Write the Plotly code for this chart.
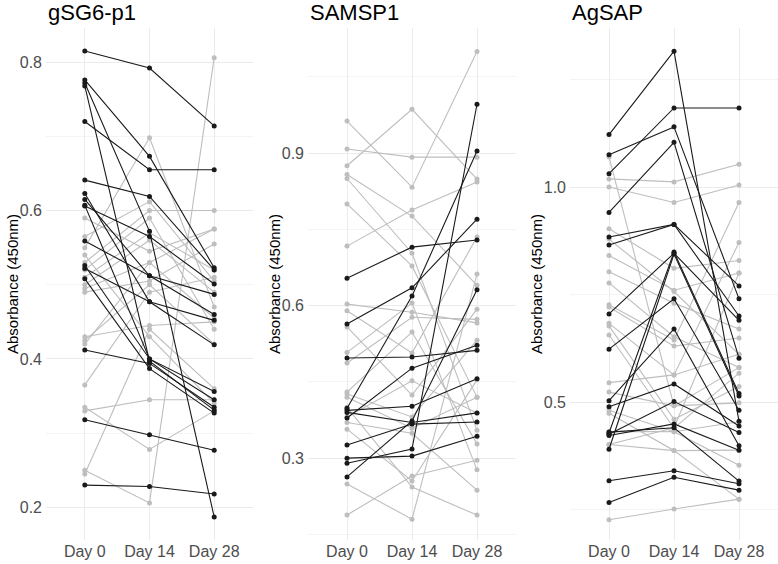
import plotly.graph_objects as go

days = ["Day 0", "Day 14", "Day 28"]
panel_titles = ["gSG6-p1", "SAMSP1", "AgSAP"]
y_title = "Absorbance (450nm)"

# Each row: absorbance at Day 0, Day 14, Day 28
gsg6_black = [
    [0.815, 0.792, 0.714], [0.720, 0.655, 0.655], [0.776, 0.673, 0.523],
    [0.772, 0.572, 0.187], [0.768, 0.397, 0.331], [0.641, 0.619, 0.520],
    [0.623, 0.477, 0.419], [0.615, 0.512, 0.460], [0.607, 0.400, 0.345],
    [0.606, 0.565, 0.501], [0.559, 0.512, 0.487], [0.526, 0.400, 0.356],
    [0.522, 0.477, 0.452], [0.508, 0.387, 0.327], [0.412, 0.394, 0.335],
    [0.318, 0.298, 0.277], [0.230, 0.228, 0.218],
]
gsg6_grey = [
    [0.590, 0.545, 0.575], [0.565, 0.612, 0.505], [0.550, 0.698, 0.470],
    [0.530, 0.600, 0.600], [0.520, 0.590, 0.440], [0.510, 0.570, 0.520],
    [0.500, 0.560, 0.490], [0.495, 0.530, 0.575], [0.490, 0.505, 0.555],
    [0.430, 0.445, 0.450], [0.425, 0.500, 0.420], [0.420, 0.530, 0.455],
    [0.365, 0.490, 0.510], [0.335, 0.278, 0.330], [0.330, 0.345, 0.345],
    [0.250, 0.206, 0.806], [0.245, 0.440, 0.360], [0.540, 0.430, 0.340],
]
samsp1_black = [
    [0.654, 0.715, 0.729], [0.564, 0.635, 0.770], [0.497, 0.499, 0.512],
    [0.398, 0.619, 0.904], [0.394, 0.402, 0.456], [0.379, 0.477, 0.522],
    [0.326, 0.367, 0.371], [0.263, 0.373, 0.631], [0.300, 0.304, 0.343],
    [0.290, 0.318, 0.996], [0.390, 0.370, 0.389],
]
samsp1_grey = [
    [0.963, 0.833, 1.100], [0.908, 0.892, 0.892], [0.875, 0.986, 0.849],
    [0.858, 0.776, 0.640], [0.850, 0.703, 0.355], [0.800, 0.678, 0.420],
    [0.717, 0.788, 0.843], [0.603, 0.587, 0.566], [0.590, 0.507, 0.735],
    [0.558, 0.424, 0.593], [0.508, 0.605, 0.277], [0.487, 0.577, 0.573],
    [0.430, 0.548, 0.328], [0.426, 0.381, 0.532], [0.381, 0.452, 0.389],
    [0.357, 0.255, 0.454], [0.249, 0.180, 0.662], [0.188, 0.265, 0.296],
    [0.400, 0.243, 0.188], [0.370, 0.349, 0.237], [0.420, 0.359, 0.420],
]
agsap_black = [
    [1.122, 1.316, 0.455], [1.031, 1.184, 1.184], [1.075, 1.140, 0.740],
    [0.941, 1.104, 0.602], [0.884, 0.913, 0.770], [0.865, 0.913, 0.700],
    [0.705, 0.846, 0.690], [0.428, 0.849, 0.520], [0.390, 0.844, 0.514],
    [0.623, 0.740, 0.481], [0.503, 0.670, 0.398], [0.489, 0.542, 0.444],
    [0.425, 0.501, 0.429], [0.422, 0.449, 0.388], [0.430, 0.440, 0.316],
    [0.317, 0.340, 0.310], [0.266, 0.325, 0.295],
]
agsap_grey = [
    [1.019, 1.012, 1.053], [1.000, 0.964, 1.005], [1.070, 0.491, 0.580],
    [0.903, 0.811, 0.829], [0.879, 0.757, 0.611], [0.841, 0.760, 0.800],
    [0.803, 0.730, 0.670], [0.777, 0.652, 0.580], [0.726, 0.644, 0.964],
    [0.721, 0.630, 0.649], [0.683, 0.563, 0.871], [0.677, 0.460, 0.536],
    [0.656, 0.439, 0.567], [0.545, 0.563, 0.611], [0.523, 0.491, 0.498],
    [0.481, 0.431, 0.454], [0.474, 0.387, 0.388], [0.431, 0.431, 0.353],
    [0.401, 0.387, 0.274], [0.226, 0.251, 0.274], [0.401, 0.440, 0.800],
]

panels = [
    (gsg6_grey, gsg6_black, [0.156, 0.846], 0.2, 0.1),
    (samsp1_grey, samsp1_black, [0.139, 1.146], 0.3, 0.15),
    (agsap_grey, agsap_black, [0.179, 1.370], 0.5, 0.25),
]

W, H = 778, 564
MT, MB = 28, 24
x_dom_px = [(46, 253), (308, 516), (570, 778)]
GREY = "#BEBEBE"
BLACK = "#1A1A1A"
FONT = "Liberation Sans, Arial, Helvetica"

fig = go.Figure()
annotations = []
layout = {}
for i, (grey, black, yr, dt, mdt) in enumerate(panels):
    xa = "x" if i == 0 else f"x{i+1}"
    ya = "y" if i == 0 else f"y{i+1}"
    for rows, col in ((grey, GREY), (black, BLACK)):
        for r in rows:
            fig.add_trace(go.Scatter(
                x=days, y=r, xaxis=xa, yaxis=ya, mode="lines+markers",
                line=dict(color=col, width=1.1),
                marker=dict(color=col, size=5),
                showlegend=False, hoverinfo="skip"))
    d0 = x_dom_px[i][0] / W
    d1 = x_dom_px[i][1] / W
    xkey = "xaxis" if i == 0 else f"xaxis{i+1}"
    ykey = "yaxis" if i == 0 else f"yaxis{i+1}"
    layout[xkey] = dict(
        domain=[d0, d1], anchor=ya, type="category",
        categoryorder="array", categoryarray=days, range=[-0.6, 2.6],
        showgrid=True, gridcolor="#EBEBEB", gridwidth=1, zeroline=False,
        showline=False, ticks="",
        tickfont=dict(family=FONT, size=16, color="#4D4D4D"),
        automargin=False,
    )
    layout[ykey] = dict(
        domain=[0, 1], anchor=xa, range=yr, tick0=0, dtick=dt,
        tickformat=".1f",
        showgrid=True, gridcolor="#EBEBEB", gridwidth=1, zeroline=False,
        showline=False, ticks="", ticklabelstandoff=3,
        minor=dict(showgrid=True, gridcolor="#F4F4F4", gridwidth=0.6,
                   tick0=0, dtick=mdt),
        tickfont=dict(family=FONT, size=16, color="#4D4D4D"),
        automargin=False,
    )
    annotations.append(dict(
        text=panel_titles[i], xref="paper", yref="paper",
        x=d0, y=1.0, xanchor="left", yanchor="bottom", yshift=1,
        showarrow=False,
        font=dict(family=FONT, size=22, color="black")))
    annotations.append(dict(
        text=y_title, xref="paper", yref="paper",
        x=(x_dom_px[i][0] - 34) / W, y=0.5, xanchor="center", yanchor="middle",
        textangle=-90, showarrow=False,
        font=dict(family=FONT, size=15, color="black")))

fig.update_layout(
    width=W, height=H,
    margin=dict(l=0, r=0, t=MT, b=MB),
    paper_bgcolor="white", plot_bgcolor="white",
    annotations=annotations,
    **layout,
)
fig.write_html("out.html")
